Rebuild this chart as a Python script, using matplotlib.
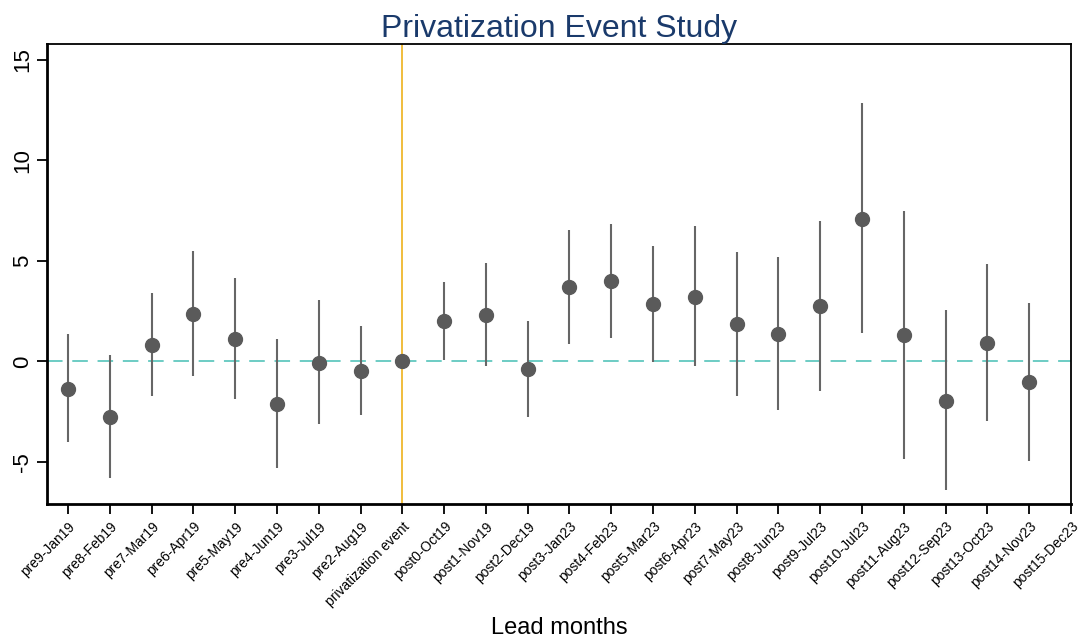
import matplotlib
matplotlib.use("Agg")
from matplotlib import pyplot as plt
import numpy as np

plt.rcParams['font.family'] = ['Liberation Sans', 'DejaVu Sans']

labels = ["pre9-Jan19", "pre8-Feb19", "pre7-Mar19", "pre6-Apr19", "pre5-May19",
          "pre4-Jun19", "pre3-Jul19", "pre2-Aug19", "privatization event",
          "post0-Oct19", "post1-Nov19", "post2-Dec19", "post3-Jan23", "post4-Feb23",
          "post5-Mar23", "post6-Apr23", "post7-May23", "post8-Jun23", "post9-Jul23",
          "post10-Jul23", "post11-Aug23", "post12-Sep23", "post13-Oct23",
          "post14-Nov23", "post15-Dec23"]

# point estimates (post15 has no estimate)
coef = [-1.38, -2.77, 0.80, 2.34, 1.09, -2.14, -0.07, -0.50, 0.0,
        2.00, 2.30, -0.38, 3.70, 4.00, 2.84, 3.22, 1.87, 1.36, 2.75,
        7.10, 1.29, -1.97, 0.93, -1.03, np.nan]
ci_low = [-4.03, -5.80, -1.74, -0.73, -1.87, -5.29, -3.10, -2.65, np.nan,
          0.08, -0.23, -2.77, 0.88, 1.18, -0.03, -0.25, -1.71, -2.44, -1.48,
          1.41, -4.86, -6.42, -2.97, -4.98, np.nan]
ci_high = [1.38, 0.33, 3.40, 5.47, 4.16, 1.13, 3.07, 1.74, np.nan,
           3.93, 4.89, 2.00, 6.55, 6.85, 5.75, 6.72, 5.46, 5.19, 7.01,
           12.85, 7.51, 2.54, 4.86, 2.92, np.nan]

x = np.arange(len(labels))
event_idx = labels.index("privatization event")

fig = plt.figure(figsize=(10.79, 6.41), dpi=100)
ax = fig.add_axes([0.0436, 0.2137, 0.9490, 0.7177])

ax.axhline(0, color="#6cccc4", linestyle=(0, (8, 5)), linewidth=1.4, zorder=1)
ax.axvline(event_idx, color="#f0bd3c", linewidth=1.4, zorder=1)
ax.vlines(x, ci_low, ci_high, color="#666666", linewidth=1.5, zorder=2)
ax.plot(x, coef, "o", color="#5a5a5a", markersize=10, zorder=3)

ax.set_xlim(-0.5, 24)
ax.set_ylim(-7.1, 15.8)
ax.set_yticks([-5, 0, 5, 10, 15])
ax.set_yticklabels(["-5", "0", "5", "10", "15"], rotation=90, va="center", fontsize=16)
ax.set_xticks(x)
ax.set_xticklabels(labels, rotation=45, ha="right", rotation_mode="anchor", fontsize=10)
ax.tick_params(axis="both", direction="out", length=7, width=1.3, color="black")
ax.tick_params(axis="x", pad=4)
ax.tick_params(axis="y", pad=3)

for side in ["left", "bottom"]:
    ax.spines[side].set_linewidth(2)
for side in ["top", "right"]:
    ax.spines[side].set_linewidth(1.3)

ax.set_title("Privatization Event Study", color="#1a3a6b", fontsize=23, pad=4)
ax.set_xlabel("Lead months", fontsize=17, labelpad=6)

fig.savefig("out.png", dpi=100)
